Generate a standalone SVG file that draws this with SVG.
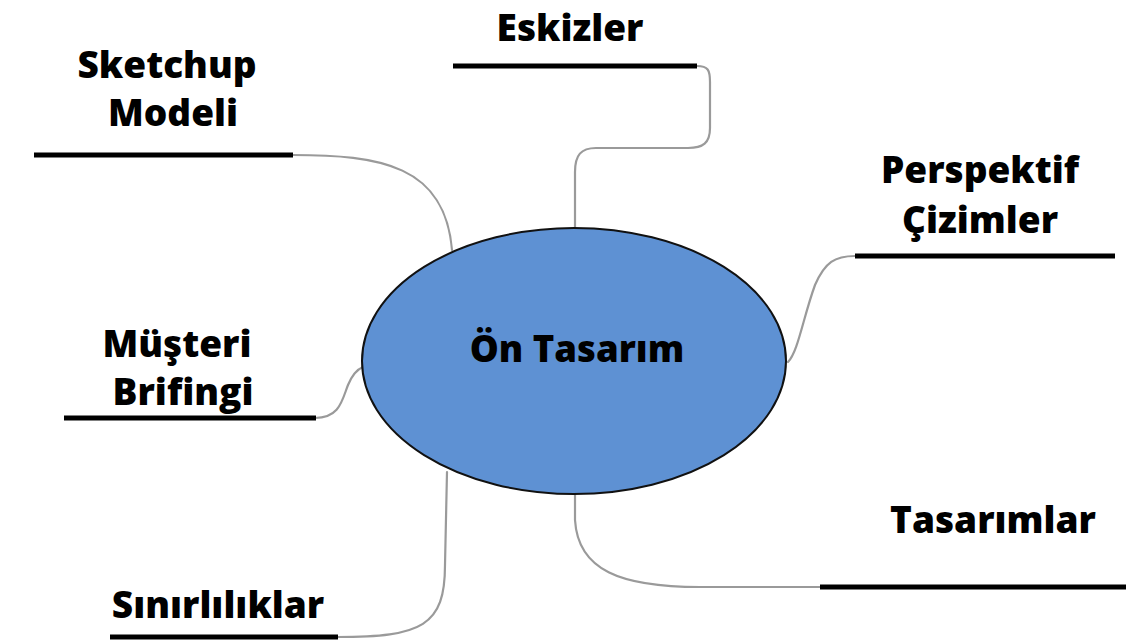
<svg xmlns="http://www.w3.org/2000/svg" width="1126" height="643" viewBox="0 0 1126 643">
  <style>
    .lbl { font-family: "Open Sans", "Liberation Sans", sans-serif; font-weight: 800; font-size: 37px; fill: #000; text-anchor: middle; }
    .bar { stroke: #000; stroke-width: 5; stroke-linecap: butt; fill: none; }
    .link { stroke: #9a9a9a; stroke-width: 2.2; fill: none; stroke-linecap: round; }
    .hub { fill: #5e91d3; stroke: #111; stroke-width: 2; }
  </style>
  <rect width="1126" height="643" fill="#fff"/>

  <!-- curved links from the centre to each branch bar -->
  <g id="connectors">
    <path class="link" d="M697,66 C708,66 710,70 710,82 L710,128 C710,143 703,148 688,148 L596,148 C581,148 575,155 575,172 L575,228"/>
    <path class="link" d="M292,155 C380,155 445,165 452,250"/>
    <path class="link" d="M315,418 C340,418 342,400 348,385 C353,373 358,369 363,367"/>
    <path class="link" d="M337,637 C422,637 445,626 445,565 L447,472"/>
    <path class="link" d="M575,494 L575,520 C578,570 620,587 700,587 L820,587"/>
    <path class="link" d="M855,256 C835,256 825,262 815,285 C803,318 798,352 788,362"/>
  </g>

  <g id="hub">
    <ellipse class="hub" cx="574" cy="361" rx="212" ry="133"/>
    <text class="lbl" x="577" y="362" style="font-size:36.5px">Ön Tasarım</text>
  </g>

  <g id="eskizler">
    <line class="bar" x1="453" y1="66" x2="697" y2="66"/>
    <text class="lbl" x="570" y="41">Eskizler</text>
  </g>

  <g id="sketchup-modeli">
    <line class="bar" x1="34" y1="155" x2="293" y2="155"/>
    <text class="lbl" x="167" y="78">Sketchup</text>
    <text class="lbl" x="173" y="126">Modeli</text>
  </g>

  <g id="perspektif-cizimler">
    <line class="bar" x1="855" y1="256" x2="1115" y2="256"/>
    <text class="lbl" x="980" y="183">Perspektif</text>
    <text class="lbl" x="980" y="233">Çizimler</text>
  </g>

  <g id="musteri-brifingi">
    <line class="bar" x1="64" y1="418" x2="316" y2="418"/>
    <text class="lbl" x="177" y="357">Müşteri</text>
    <text class="lbl" x="183" y="405">Brifingi</text>
  </g>

  <g id="tasarimlar">
    <line class="bar" x1="820" y1="587" x2="1126" y2="587"/>
    <text class="lbl" x="993" y="533">Tasarımlar</text>
  </g>

  <g id="sinirliliklar">
    <line class="bar" x1="110" y1="637" x2="338" y2="637"/>
    <text class="lbl" x="218" y="618">Sınırlılıklar</text>
  </g>
</svg>
